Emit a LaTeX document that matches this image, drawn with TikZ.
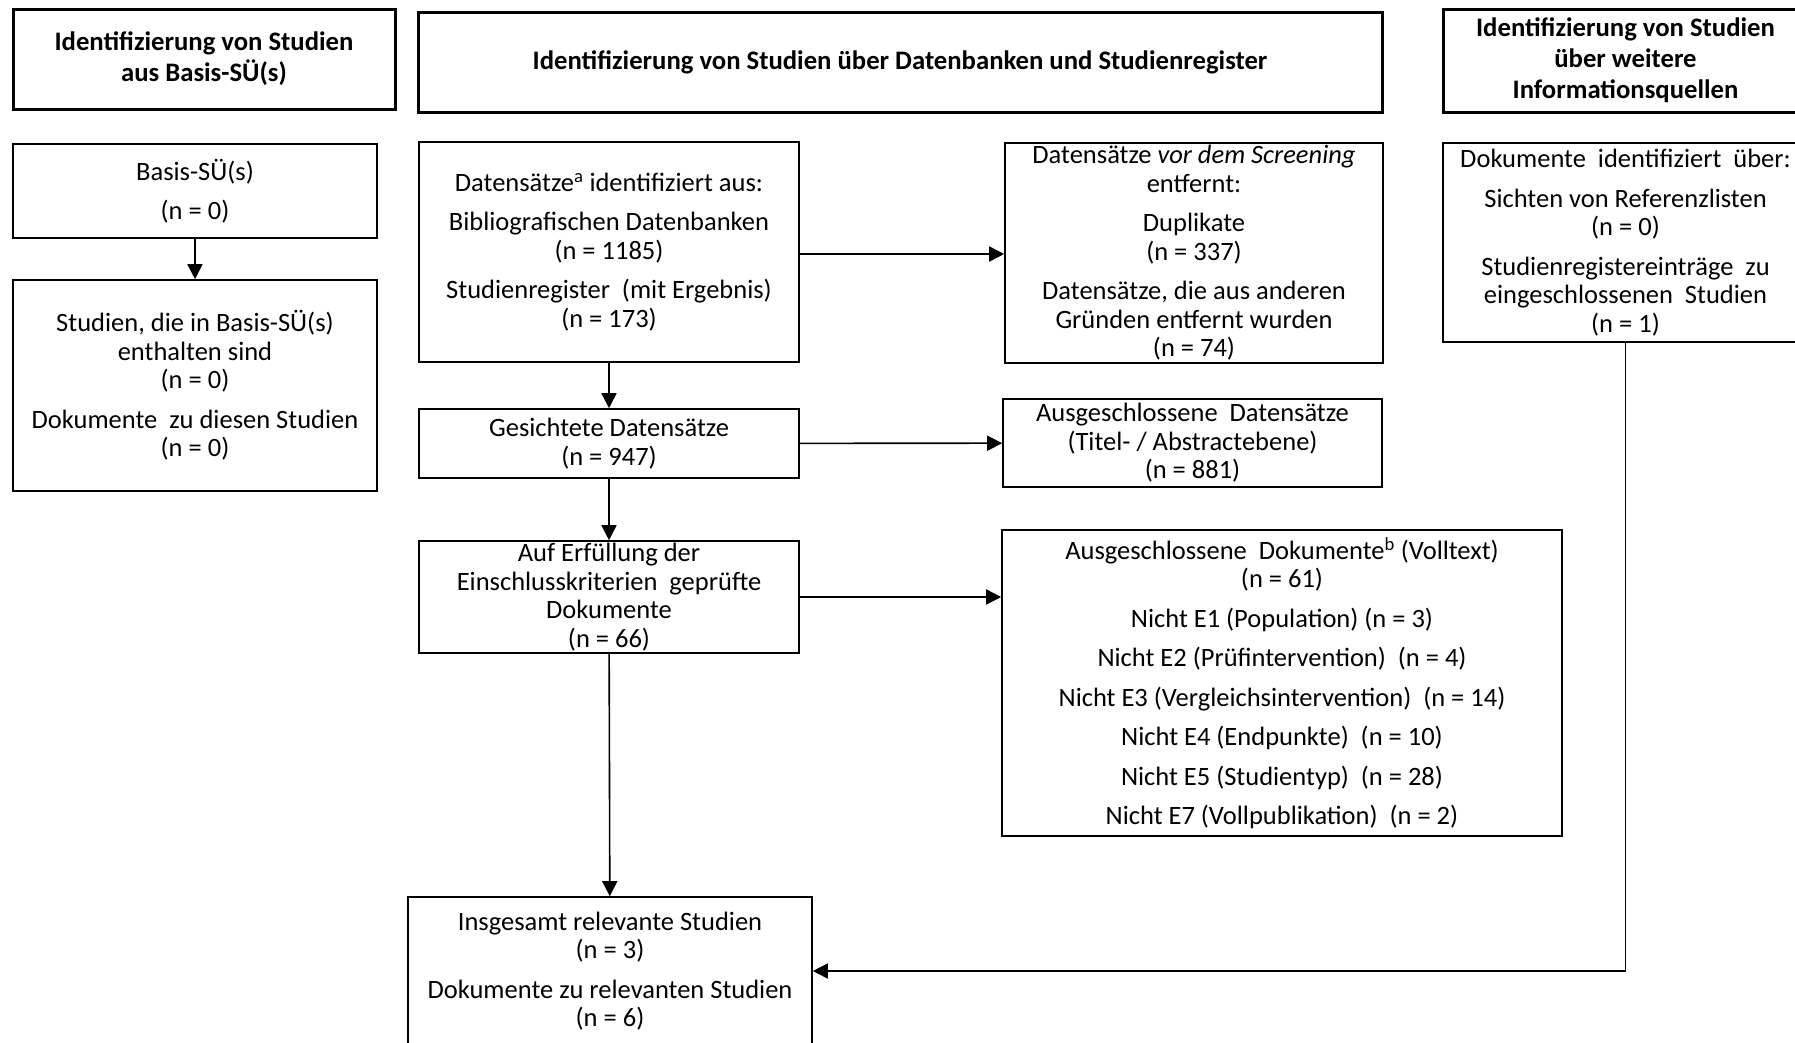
\documentclass[tikz,border=0pt]{standalone}
\usepackage{fontspec}
\setmainfont{Carlito}
\usetikzlibrary{arrows.meta}
\begin{document}
\begin{tikzpicture}[x=1pt,y=-1pt,
  box/.style={draw, line width=1.6pt, align=center, inner sep=0pt, font=\fontsize{26.5}{28.5}\selectfont},
  hbox/.style={draw, line width=3pt, align=center, inner sep=0pt, font=\fontsize{26.7}{31}\selectfont\bfseries},
  arr/.style={line width=1.6pt, -{Triangle[width=15pt,length=15pt]}},
  conn/.style={line width=1.6pt}]
\useasboundingbox (0,0) rectangle (1795,1042);
\clip (0,0) rectangle (1795,1042);
% headers
\node[hbox, minimum width=382pt, minimum height=100pt] (hL) at (204,59) {Identifizierung von Studien\\aus Basis-SÜ(s)};
\node[hbox, minimum width=964pt, minimum height=100pt] (hM) at (900,62) {Identifizierung von Studien über Datenbanken und Studienregister};
\node[hbox, minimum width=365pt, minimum height=103pt] (hR) at (1625.5,60.5) {Identifizierung von Studien\\über weitere\\Informationsquellen};
% left column
\node[box, minimum width=364pt, minimum height=94pt] (basis) at (195,191) {Basis-SÜ(s)\\[11pt](n = 0)};
\node[box, minimum width=364pt, minimum height=211pt] (stud) at (195,385.5) {Studien, die in Basis-SÜ(s)\\enthalten sind\\(n = 0)\\[11pt]Dokumente\ \ zu diesen Studien\\(n = 0)};
% middle column
\node[box, minimum width=380pt, minimum height=220pt] (dat) at (609,252) {Datensätze\textsuperscript{a} identifiziert aus:\\[11pt]Bibliografischen Datenbanken\\(n = 1185)\\[11pt]Studienregister\ \ (mit Ergebnis)\\(n = 173)};
\node[box, minimum width=378pt, minimum height=220pt] (vds) at (1194,253) {Datensätze \textit{vor dem Screening}\\entfernt:\\[11pt]Duplikate\\(n = 337)\\[11pt]Datensätze, die aus anderen\\Gründen entfernt wurden\\(n = 74)};
\node[box, minimum width=380pt, minimum height=69pt] (ges) at (609,443.5) {Gesichtete Datensätze\\(n = 947)};
\node[box, minimum width=379pt, minimum height=88pt] (ausd) at (1192.5,443) {Ausgeschlossene\ \ Datensätze\\(Titel- / Abstractebene)\\(n = 881)};
\node[box, minimum width=380pt, minimum height=112pt] (auf) at (609,597) {Auf Erfüllung der\\Einschlusskriterien\ \ geprüfte\\Dokumente\\(n = 66)};
\node[box, minimum width=560pt, minimum height=306pt] (ad) at (1282,683) {Ausgeschlossene\ \ Dokumente\textsuperscript{b} (Volltext)\\(n = 61)\\[11pt]Nicht E1 (Population) (n = 3)\\[11pt]Nicht E2 (Prüfintervention)\ \ (n = 4)\\[11pt]Nicht E3 (Vergleichsintervention)\ \ (n = 14)\\[11pt]Nicht E4 (Endpunkte)\ \ (n = 10)\\[11pt]Nicht E5 (Studientyp)\ \ (n = 28)\\[11pt]Nicht E7 (Vollpublikation)\ \ (n = 2)};
\node[box, minimum width=404pt, minimum height=148pt] (rel) at (610,971) {Insgesamt relevante Studien\\(n = 3)\\[11pt]Dokumente zu relevanten Studien\\(n = 6)};
% right column
\node[box, minimum width=365pt, minimum height=199pt] (dokR) at (1625.5,242.5) {Dokumente\ \ identifiziert\ \ über:\\[11pt]Sichten von Referenzlisten\\(n = 0)\\[11pt]Studienregistereinträge\ \ zu\\eingeschlossenen\ \ Studien\\(n = 1)};
% connectors
\draw[arr] (basis) -- (stud);
\draw[arr] (dat.east |- 0,254) -- (vds.west |- 0,254);
\draw[arr] (dat) -- (ges);
\draw[arr] (ges) -- (ausd);
\draw[arr] (ges) -- (auf);
\draw[arr] (auf.east) -- (auf.east -| ad.west);
\draw[arr] (auf) -- (rel);
\draw[arr] (dokR.south) |- (rel.east);
\end{tikzpicture}
\end{document}
